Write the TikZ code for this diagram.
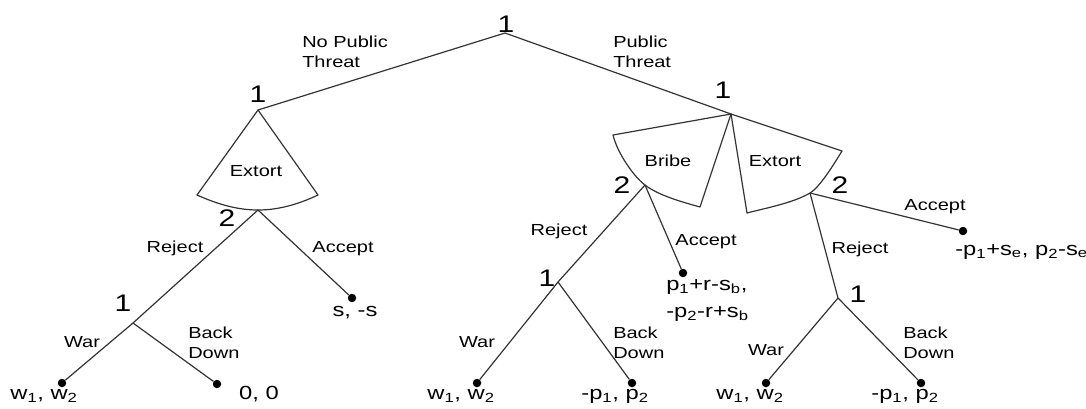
\documentclass[tikz,border=0pt]{standalone}
\usepackage{fontspec}
\setmainfont{Liberation Sans}
\newcommand{\twolines}[2]{\begin{tabular}[t]{@{}l@{}}#1\\#2\end{tabular}}
\newcommand{\sub}[1]{\textsubscript{#1}}
\begin{document}
\begin{tikzpicture}[x=1pt,y=-1pt,
  edge/.style={draw=black!80, line width=1.2pt, line join=round},
  leaf/.style={circle, fill=black, inner sep=0pt, minimum size=8.5pt},
  lbl/.style={font=\fontsize{16}{20}\selectfont, xscale=1.25, inner sep=0pt, anchor=base},
  plyr/.style={font=\fontsize{24}{28}\selectfont, xscale=1.25, inner sep=0pt},
  pay/.style={font=\fontsize{19}{27}\selectfont, xscale=1.25, inner sep=0pt, anchor=base},
]
\useasboundingbox (0,0) rectangle (1086,408);
\clip (0,0) rectangle (1086,408);

% decision points
\coordinate (r)   at (505,33);
\coordinate (L1)  at (258,110);
\coordinate (R1)  at (731,114);
\coordinate (L2)  at (258,210);
\coordinate (Lc1) at (133,323);
\coordinate (B2)  at (645,185);
\coordinate (M1)  at (558,282);
\coordinate (E2)  at (810,193);
\coordinate (R1b) at (838,298);
% sector corners
\coordinate (Lsa) at (197,195);
\coordinate (Lsb) at (318,195);
\coordinate (Ba)  at (613,135);
\coordinate (Bb)  at (700,207);
\coordinate (Ea)  at (747,213);
\coordinate (Eb)  at (842,151);

% leaves
\node[leaf] (Lw) at (62,383) {};
\node[leaf] (Lb) at (217,384) {};
\node[leaf] (La) at (352,298) {};
\node[leaf] (Mw) at (477,383) {};
\node[leaf] (Mb) at (632,383) {};
\node[leaf] (Ma) at (683,273) {};
\node[leaf] (Rw) at (766,383) {};
\node[leaf] (Rb) at (921,383) {};
\node[leaf] (Ra) at (963,231) {};

% sectors
\draw[edge] (L1) -- (Lsa) .. controls (217,204) and (237,210) .. (L2)
  .. controls (279,210) and (299,204) .. (Lsb) -- cycle;
\draw[edge] (R1) -- (Ba) .. controls (617,152) and (633,176) .. (B2)
  .. controls (659,196) and (686,203) .. (Bb) -- cycle;
\draw[edge] (R1) -- (Ea) .. controls (766,208) and (793,203) .. (E2)
  .. controls (820,187) and (834,164) .. (Eb) -- cycle;

% branches
\draw[edge] (r) -- (L1);
\draw[edge] (r) -- (R1);
\draw[edge] (L2) -- (Lc1);
\draw[edge] (L2) -- (La);
\draw[edge] (Lc1) -- (Lw);
\draw[edge] (Lc1) -- (Lb);
\draw[edge] (B2) -- (M1);
\draw[edge] (B2) -- (Ma);
\draw[edge] (M1) -- (Mw);
\draw[edge] (M1) -- (Mb);
\draw[edge] (E2) -- (R1b);
\draw[edge] (E2) -- (Ra);
\draw[edge] (R1b) -- (Rw);
\draw[edge] (R1b) -- (Rb);

% player labels
\node[plyr] (p0) at (506,24) {1};
\node[plyr] (p1) at (258,94) {1};
\node[plyr] (p2) at (723,90) {1};
\node[plyr] (p3) at (227,218) {2};
\node[plyr] (p4) at (123,303) {1};
\node[plyr] (p5) at (622,185) {2};
\node[plyr] (p6) at (547,278) {1};
\node[plyr] (p7) at (840,185) {2};
\node[plyr] (p8) at (858,294) {1};

% action labels
\node[lbl, anchor=base west] (t1) at (302,47) {\twolines{No Public}{Threat}};
\node[lbl, anchor=base west] (t2) at (613,47) {\twolines{Public}{Threat}};
\node[lbl] (s1) at (256,176) {Extort};
\node[lbl] (s2) at (668,166) {Bribe};
\node[lbl] (s3) at (775,166) {Extort};
\node[lbl] (a1) at (175,252) {Reject};
\node[lbl] (a2) at (343,252) {Accept};
\node[lbl] (a3) at (82,347) {War};
\node[lbl, anchor=base west] (a4) at (188,338) {\twolines{Back}{Down}};
\node[lbl] (a5) at (559,235) {Reject};
\node[lbl] (a6) at (706,245) {Accept};
\node[lbl] (a7) at (477,347) {War};
\node[lbl, anchor=base west] (a8) at (613,338) {\twolines{Back}{Down}};
\node[lbl] (a9) at (935,210) {Accept};
\node[lbl] (a10) at (860,253) {Reject};
\node[lbl] (a11) at (766,355) {War};
\node[lbl, anchor=base west] (a12) at (903,338) {\twolines{Back}{Down}};

% payoffs
\node[pay] (y1) at (44,399) {w\sub{1}, w\sub{2}};
\node[pay] (y2) at (259,399) {0, 0};
\node[pay] (y3) at (355,316) {s, -s};
\node[pay] (y4) at (461,399) {w\sub{1}, w\sub{2}};
\node[pay] (y5) at (615,399) {-p\sub{1}, p\sub{2}};
\node[pay, anchor=base west] (y6) at (666,290) {\twolines{p\sub{1}+r-s\sub{b},}{-p\sub{2}-r+s\sub{b}}};
\node[pay] (y7) at (750,399) {w\sub{1}, w\sub{2}};
\node[pay] (y8) at (905,399) {-p\sub{1}, p\sub{2}};
\node[pay, anchor=base west] (y9) at (955,255) {-p\sub{1}+s\sub{e}, p\sub{2}-s\sub{e}};
\end{tikzpicture}
\end{document}
